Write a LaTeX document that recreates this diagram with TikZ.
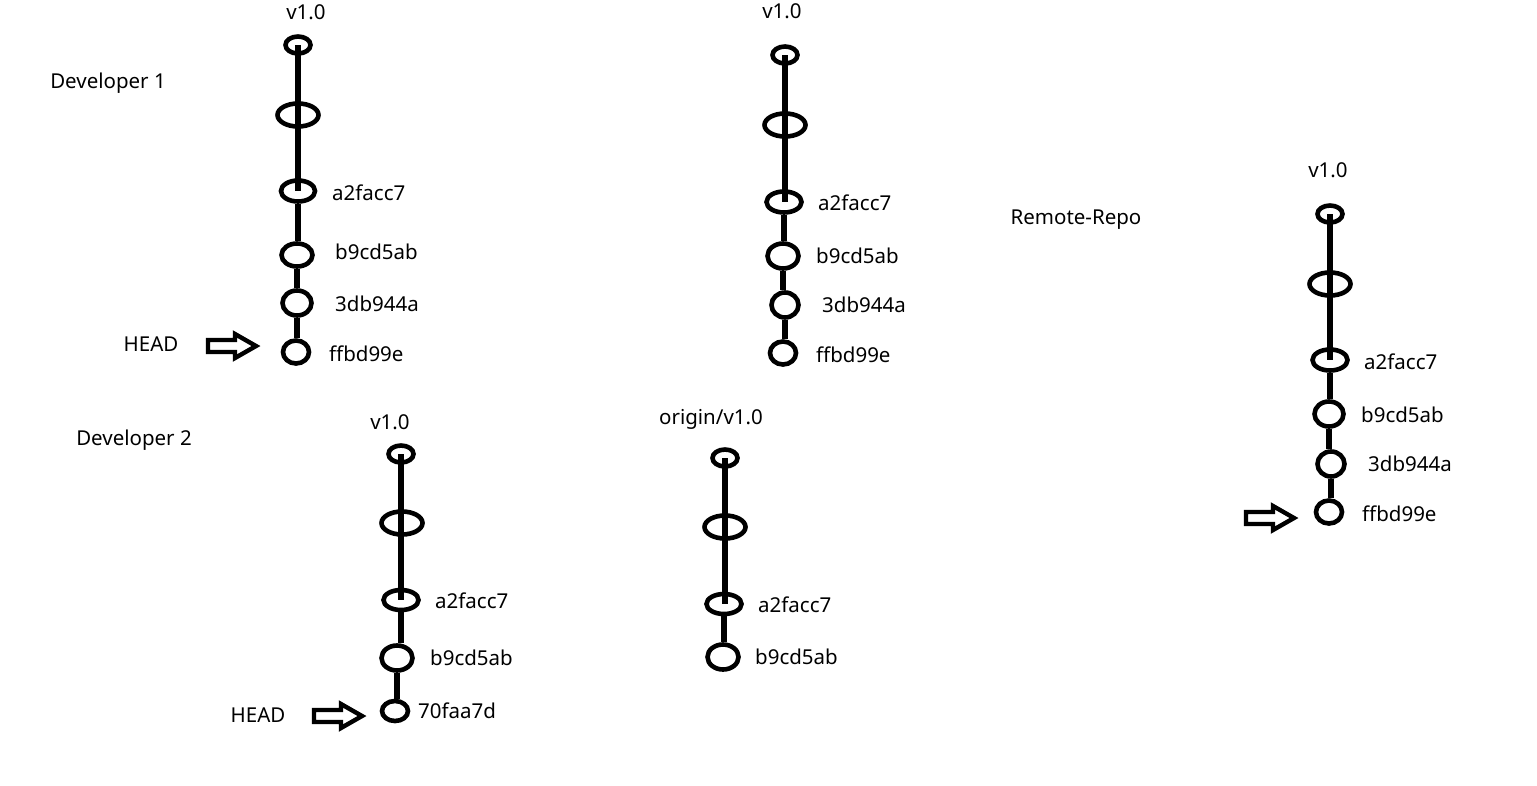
\documentclass[tikz,border=0pt]{standalone}
\usepackage{fontspec}
\setmainfont{Noto Sans}
\usetikzlibrary{shapes.geometric}
\tikzset{
  commitnode/.style={ellipse, draw, line width=4.6pt, inner sep=0pt},
  trunk/.style={line width=6pt},
  lbl/.style={font=\fontsize{20.5}{24}\selectfont, inner sep=0pt},
  hash/.style={lbl, anchor=west},
  ptr/.style={draw, line width=4.4pt, line join=miter}
}
\newcommand{\blockarrow}[1]{\draw[ptr, shift={(#1)}] (-24,-6) -- (3,-6) -- (3,-12) -- (24,0) -- (3,12) -- (3,6) -- (-24,6) -- cycle;}
\newcommand{\seg}[2]{\draw[trunk] (#1.south) -- (#1.south |- #2.north);}
\begin{document}
\begin{tikzpicture}[x=1pt,y=-1pt]
\useasboundingbox (0,0) rectangle (1537,785);

% ---------- Developer 1 ----------
\node[lbl] (d1) at (108,83) {Developer 1};
\node[lbl] (t1) at (306,12) {v1.0};
\node[commitnode, minimum width=25pt, minimum height=17pt] (a1) at (298,45) {};
\node[commitnode, minimum width=41pt, minimum height=23pt] (a2) at (298,115) {};
\node[commitnode, minimum width=34pt, minimum height=21pt] (a3) at (298,191) {};
\node[commitnode, minimum width=31pt, minimum height=23pt] (a4) at (297,255) {};
\node[commitnode, minimum width=29pt, minimum height=25pt] (a5) at (297,303) {};
\node[commitnode, minimum width=26pt, minimum height=23pt] (a6) at (296,352) {};
\node[hash] at (332,193) {a2facc7};
\node[hash] at (335,252) {b9cd5ab};
\node[hash] at (335,304) {3db944a};
\node[hash] at (329,354) {ffbd99e};
\draw[trunk] (a1.center) -- (a3.center);
\seg{a3}{a4}
\seg{a4}{a5}
\seg{a5}{a6}
\node[lbl] (h1) at (151,344) {HEAD};
\coordinate (p1) at (232,346);
\blockarrow{p1}

% ---------- Developer 1 copy (middle) ----------
\node[lbl] (t2) at (782,11) {v1.0};
\node[commitnode, minimum width=25pt, minimum height=17pt] (b1) at (785,55) {};
\node[commitnode, minimum width=41pt, minimum height=23pt] (b2) at (785,125) {};
\node[commitnode, minimum width=35pt, minimum height=21pt] (b3) at (784,202) {};
\node[commitnode, minimum width=31pt, minimum height=25pt] (b4) at (783,256) {};
\node[commitnode, minimum width=27pt, minimum height=25pt] (b5) at (785,305) {};
\node[commitnode, minimum width=26pt, minimum height=23pt] (b6) at (783,353) {};
\node[hash] at (818,203) {a2facc7};
\node[hash] at (816,256) {b9cd5ab};
\node[hash] at (822,305) {3db944a};
\node[hash] at (816,355) {ffbd99e};
\draw[trunk] (b1.center) -- (b1.center |- b3.center);
\seg{b3}{b4}
\seg{b4}{b5}
\seg{b5}{b6}

% ---------- Remote repo ----------
\node[lbl] (rr) at (1076,220) {Remote-Repo};
\node[lbl] (t3) at (1328,170) {v1.0};
\node[commitnode, minimum width=25pt, minimum height=17pt] (c1) at (1330,214) {};
\node[commitnode, minimum width=41pt, minimum height=23pt] (c2) at (1330,284) {};
\node[commitnode, minimum width=35pt, minimum height=21pt] (c3) at (1330,360) {};
\node[commitnode, minimum width=29pt, minimum height=25pt] (c4) at (1329,414) {};
\node[commitnode, minimum width=27pt, minimum height=25pt] (c5) at (1331,464) {};
\node[commitnode, minimum width=26pt, minimum height=23pt] (c6) at (1329,512) {};
\node[hash] at (1364,362) {a2facc7};
\node[hash] at (1361,415) {b9cd5ab};
\node[hash] at (1368,464) {3db944a};
\node[hash] at (1362,514) {ffbd99e};
\draw[trunk] (c1.center) -- (c3.center);
\seg{c3}{c4}
\seg{c4}{c5}
\seg{c5}{c6}
\coordinate (p3) at (1270,518);
\blockarrow{p3}

% ---------- Developer 2 ----------
\node[lbl] (d2) at (134,440) {Developer 2};
\node[lbl] (t4) at (390,422) {v1.0};
\node[commitnode, minimum width=25pt, minimum height=17pt] (e1) at (401,454) {};
\node[commitnode, minimum width=41pt, minimum height=23pt] (e2) at (402,523) {};
\node[commitnode, minimum width=35pt, minimum height=20pt] (e3) at (401,600) {};
\node[commitnode, minimum width=31pt, minimum height=25pt] (e4) at (397,658) {};
\node[commitnode, minimum width=26pt, minimum height=20pt] (e5) at (395,711) {};
\node[hash] at (435,601) {a2facc7};
\node[hash] at (430,658) {b9cd5ab};
\node[hash] at (418,711) {70faa7d};
\draw[trunk] (e1.center) -- (e3.center);
\seg{e3}{e4}
\seg{e4}{e5}
\node[lbl] (h2) at (258,715) {HEAD};
\coordinate (p2) at (338,716);
\blockarrow{p2}

% ---------- origin/v1.0 ----------
\node[lbl] (t5) at (711,419) {origin/v1.0};
\node[commitnode, minimum width=25pt, minimum height=17pt] (f1) at (725,458) {};
\node[commitnode, minimum width=41pt, minimum height=23pt] (f2) at (725,527) {};
\node[commitnode, minimum width=35pt, minimum height=20pt] (f3) at (724,604) {};
\node[commitnode, minimum width=31pt, minimum height=25pt] (f4) at (723,657) {};
\node[hash] at (758,605) {a2facc7};
\node[hash] at (755,657) {b9cd5ab};
\draw[trunk] (f1.center) -- (f1.center |- f3.center);
\seg{f3}{f4}
\end{tikzpicture}
\end{document}
